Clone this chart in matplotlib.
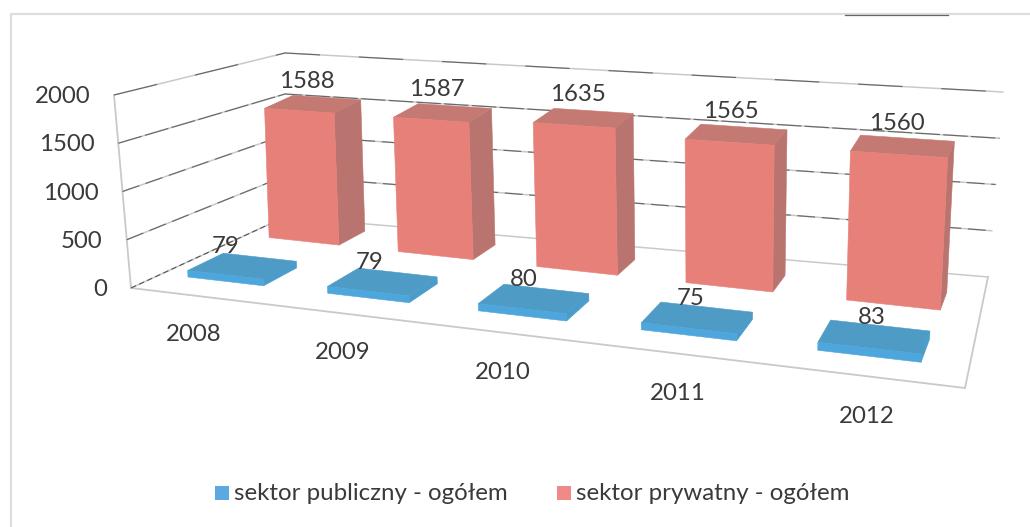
import numpy as np
import matplotlib
matplotlib.use("Agg")
import matplotlib.pyplot as plt
from matplotlib.patches import Polygon, Rectangle

years = ["2008", "2009", "2010", "2011", "2012"]
publiczny = [79, 79, 80, 75, 83]
prywatny = [1588, 1587, 1635, 1565, 1560]
y_ticks = [0, 500, 1000, 1500, 2000]
series_names = ["sektor publiczny - ogółem", "sektor prywatny - ogółem"]

plt.rcParams['font.family'] = ['Lato', 'DejaVu Sans']
fig = plt.figure(figsize=(10.3, 5.27), dpi=100)
ax = fig.add_axes([0, 0, 1, 1])
ax.set_xlim(0, 1030)
ax.set_ylim(527, 0)
ax.axis('off')
VMAX = 2000.0
TXT = '#3A3A3A'
FS = 17.3


def homography(dst):
    src = [(0, 0), (1, 0), (1, 1), (0, 1)]
    A, b = [], []
    for (u, v), (x, y) in zip(src, dst):
        A.append([u, v, 1, 0, 0, 0, -u * x, -v * x]); b.append(x)
        A.append([0, 0, 0, u, v, 1, -u * y, -v * y]); b.append(y)
    h = np.linalg.solve(np.array(A, float), np.array(b, float))
    return np.append(h, 1).reshape(3, 3)


def apply(H, u, v):
    p = H @ np.array([u, v, 1.0])
    return p[:2] / p[2]


def mapper(floor, top, warp=0.0):
    Hf, Ht = homography(floor), homography(top)

    def project(u, v, value):
        u = u - warp * u * (1 - u)
        w = value / VMAX
        return (1 - w) * apply(Hf, u, v) + w * apply(Ht, u, v)
    return project


# page placement of the scene box and of the block of bars
# (front-left, front-right, back-right, back-left)
box = mapper([(131, 288), (965, 388), (988, 277), (285, 217)],
             [(114, 95), (983, 170), (1003, 92), (285, 53)])
bars = mapper([(188, 277), (927, 363), (952, 293), (297, 224)],
              [(180, 112), (936, 163), (962, 99), (292, 62)], warp=0.06)

STEP = 0.2183
WIDTH = 0.12


def draw_bar(i, value, v0, v1, front, side, top):
    u0 = i * STEP
    u1 = u0 + WIDTH
    faces = [
        ([(u1, v0, 0), (u1, v1, 0), (u1, v1, value), (u1, v0, value)], side),
        ([(u0, v0, value), (u1, v0, value), (u1, v1, value), (u0, v1, value)], top),
        ([(u0, v0, 0), (u1, v0, 0), (u1, v0, value), (u0, v0, value)], front),
    ]
    for pts, color in faces:
        ax.add_patch(Polygon([bars(*p) for p in pts], closed=True,
                             facecolor=color, edgecolor=color, lw=0.4, zorder=3))
    return bars((u0 + u1) / 2, (v0 + v1) / 2, value)


# chart frame
ax.plot([11, 11, 1029], [527, 14, 14], color='#DDDDDD', lw=1.6, zorder=1)
ax.plot([845, 948], [14.5, 14.5], color='#666666', lw=0.9, zorder=1)

# walls, floor and gridlines
GRID = '#C9C9C9'
DASH = {500: (16, 6), 1000: (16, 6), 1500: (22, 3), 2000: (40, 35)}
for t in y_ticks:
    pts = np.array([box(0, 0, t), box(0, 1, t), box(1, 1, t)])
    ax.plot(pts[:, 0], pts[:, 1], color=GRID, lw=1.1, zorder=1)
    if t > 0:
        ax.plot(pts[:, 0], pts[:, 1], color='#666666', lw=0.8,
                ls=(0, DASH[t]), zorder=1.5)
    else:
        ax.plot(pts[:2, 0], pts[:2, 1], color='#555555', lw=0.8,
                ls=(0, (5, 3)), zorder=1.5)
    lab = box(0, 0, t)
    ax.text(lab[0] - 24, lab[1] + 1.5, str(t), ha='right', va='center',
            fontsize=FS, color=TXT, zorder=5)
edges = [[(0, 0, 0), (0, 0, VMAX)], [(0, 0, 0), (1, 0, 0)], [(1, 0, 0), (1, 1, 0)]]
for a, b in edges:
    pa, pb = box(*a), box(*b)
    ax.plot([pa[0], pb[0]], [pa[1], pb[1]], color=GRID, lw=1.3, zorder=1)

# bars: rear series first
RED = ('#E8807A', '#B9746F', '#C47A73')
BLUE = ('#4DA6DC', '#4A9CCB', '#4E9BC6')
for i, val in enumerate(prywatny):
    c = draw_bar(i, val, 0.72, 1.0, *RED)
    ax.text(c[0] - 6, c[1] - 23, str(val), ha='center', va='center',
            fontsize=FS, color=TXT, zorder=5)
for i, val in enumerate(publiczny):
    c = draw_bar(i, val, 0.0, 0.3, *BLUE)
    ax.text(c[0] - 17 + 3.5 * i, c[1] - 19, str(val), ha='center', va='center',
            fontsize=FS, color=TXT, zorder=5)

# category labels
for i, year in enumerate(years):
    p = bars(i * STEP + WIDTH / 2, -0.35, 0)
    ax.text(p[0] + 12, p[1] + 31, year, ha='center', va='center',
            fontsize=FS, color=TXT, zorder=5)

# legend
for x, name, color in zip([215, 557], series_names, ['#5BA9E0', '#F08A88']):
    ax.add_patch(Rectangle((x, 486), 14, 14, facecolor=color, edgecolor='none', zorder=5))
    ax.text(x + 19, 493, name, ha='left', va='center', fontsize=FS,
            color=TXT, zorder=5)

fig.savefig("out.png", dpi=100)
